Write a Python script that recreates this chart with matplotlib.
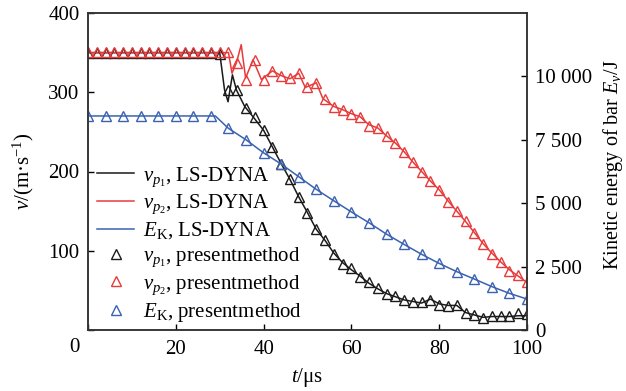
import matplotlib
matplotlib.use("Agg")
import matplotlib.pyplot as plt
from matplotlib.lines import Line2D

plt.rcParams["font.family"] = ["Liberation Serif", "DejaVu Serif"]
plt.rcParams["mathtext.fontset"] = "custom"
plt.rcParams["mathtext.rm"] = "Liberation Serif"
plt.rcParams["mathtext.it"] = "Liberation Serif:italic"
plt.rcParams["font.size"] = 15

# present method samples (triangles)
t_2us = list(range(0, 101, 2))
t_4us = list(range(0, 101, 4))

vp1_present = [350] * 15 + [
    348, 303, 303, 280, 269, 252, 231, 210, 190, 168, 148, 127, 114, 96, 83,
    78, 67, 60, 53, 45, 43, 38, 35, 35, 38, 32, 30, 32, 21, 19, 15, 18, 18, 18,
    21, 20,
]
vp2_present = [351] * 17 + [
    337, 315, 341, 316, 327, 321, 318, 324, 307, 312, 292, 281, 278, 273, 269,
    258, 255, 245, 236, 225, 212, 200, 188, 177, 162, 150, 137, 123, 109, 96,
    86, 75, 69, 60,
]
ek_present = [8440] * 8 + [
    7950, 7500, 6985, 6545, 6045, 5545, 5095, 4655, 4230, 3780, 3375, 2985,
    2625, 2300, 2010, 1710, 1445, 1220,
]

# LS-DYNA curves (lines)
vp1_dyna_t = [0, 30, 31.1, 31.9, 32.9, 33.8, 35.7, 37.6, 40, 42, 44, 46, 48,
              50, 52, 54, 56, 58, 60, 62, 64, 66, 68, 70, 72, 74, 76, 78, 80,
              82, 84, 86, 88, 90, 92, 94, 96, 98, 100]
vp1_dyna = [350, 350, 303, 288, 322, 303, 282, 269, 252, 231, 210, 190, 168,
            148, 127, 113, 97, 85, 76, 68, 59, 52, 46, 42, 38, 36, 34, 39, 33,
            31, 31, 22, 19, 16, 17, 17, 17, 18, 18]

vp2_dyna_t = [0, 32, 32.8, 33.8, 34.9, 35.9, 37.6, 39.5, 42, 44, 46, 48, 49.5,
              52, 53.5, 56, 58, 60, 62, 64, 66, 68, 70, 72, 74, 76, 78, 80, 82,
              84, 86, 88, 90, 92, 94, 96, 98, 100]
vp2_dyna = [350, 350, 324, 337, 360, 318, 341, 316, 327, 321, 317, 324, 306,
            312, 292, 282, 278, 273, 269, 259, 255, 245, 236, 225, 212, 200,
            188, 177, 163, 150, 137, 123, 109, 97, 86, 76, 68, 60]

ek_dyna_t = [0, 29, 32, 36, 40, 44, 48, 52, 56, 60, 64, 68, 72, 76, 80, 84,
             88, 92, 96, 100]
ek_dyna = [8440, 8440, 7950, 7500, 6985, 6545, 6045, 5545, 5095, 4655, 4230,
           3780, 3375, 2985, 2625, 2300, 2010, 1710, 1445, 1220]

x_ticks = [0, 20, 40, 60, 80, 100]
x_labels = ["", "20", "40", "60", "80", "100"]
v_ticks = [0, 100, 200, 300, 400]
v_labels = ["", "100", "200", "300", "400"]
e_ticks = [0, 2500, 5000, 7500, 10000]
e_labels = ["0", "2 500", "5 000", "7 500", "10 000"]

black = "#1a1a1a"
red = "#e83a3a"
blue = "#3a62b0"

fig = plt.figure(figsize=(6.26, 3.91), dpi=100)
ax = fig.add_axes([88 / 626, 61 / 391, 439 / 626, 317 / 391])
ax2 = ax.twinx()

ax.plot(vp1_dyna_t, vp1_dyna, color=black, lw=1.1)
ax.plot(vp2_dyna_t, vp2_dyna, color=red, lw=1.1)
ax2.plot(ek_dyna_t, ek_dyna, color=blue, lw=1.1)
ax.plot(t_2us, vp1_present, ls="none", marker="^", ms=7, mfc="none",
        mec=black, mew=1.0)
ax.plot(t_2us, vp2_present, ls="none", marker="^", ms=7, mfc="none",
        mec=red, mew=1.0)
ax2.plot(t_4us, ek_present, ls="none", marker="^", ms=7, mfc="none",
         mec=blue, mew=1.0)

ax.set_xlim(0, 100)
ax.set_ylim(0, 400)
ax2.set_ylim(0, 12500)
ax.set_xticks(x_ticks)
ax.set_xticklabels(x_labels)
ax.set_yticks(v_ticks)
ax.set_yticklabels(v_labels)
ax2.set_yticks(e_ticks)
ax2.set_yticklabels(e_labels)

ax.tick_params(axis="x", direction="in", length=4, width=1, pad=7)
ax.tick_params(axis="y", direction="in", length=4, width=1, pad=6)
ax2.tick_params(axis="y", direction="in", length=4, width=1, pad=6)
for a in (ax, ax2):
    for s in a.spines.values():
        s.set_color("#333333")
        s.set_linewidth(1.1)

# shared origin label sits off the corner
ax.text(-3.1, -22, "0", ha="center", va="center")

ax.set_xlabel(r"$t$/μs", labelpad=5)
ax.set_ylabel(r"$v$/(m·s$^{-1}$)", labelpad=9)
ax2.set_ylabel(r"Kinetic energy of bar $E_v$/J", fontsize=14.5)
ax2.yaxis.set_label_coords(1.168, 0.52)

handles = [
    Line2D([], [], color=black, lw=1.1),
    Line2D([], [], color=red, lw=1.1),
    Line2D([], [], color=blue, lw=1.1),
    Line2D([], [], ls="none", marker="^", ms=7, mfc="none", mec=black),
    Line2D([], [], ls="none", marker="^", ms=7, mfc="none", mec=red),
    Line2D([], [], ls="none", marker="^", ms=7, mfc="none", mec=blue),
]
labels = [
    r"$v_{p_1}$, LS-DYNA",
    r"$v_{p_2}$, LS-DYNA",
    r"$E_{\mathrm{K}}$, LS-DYNA",
    r"$v_{p_1}$, presentmethod",
    r"$v_{p_2}$, presentmethod",
    r"$E_{\mathrm{K}}$, presentmethod",
]
ax2.legend(handles, labels, loc="upper left", bbox_to_anchor=(0.02, 0.52),
           frameon=False, borderpad=0, borderaxespad=0, handlelength=1.8,
           handletextpad=0.4, labelspacing=0.2, fontsize=15)

fig.savefig("out.png", dpi=100)
